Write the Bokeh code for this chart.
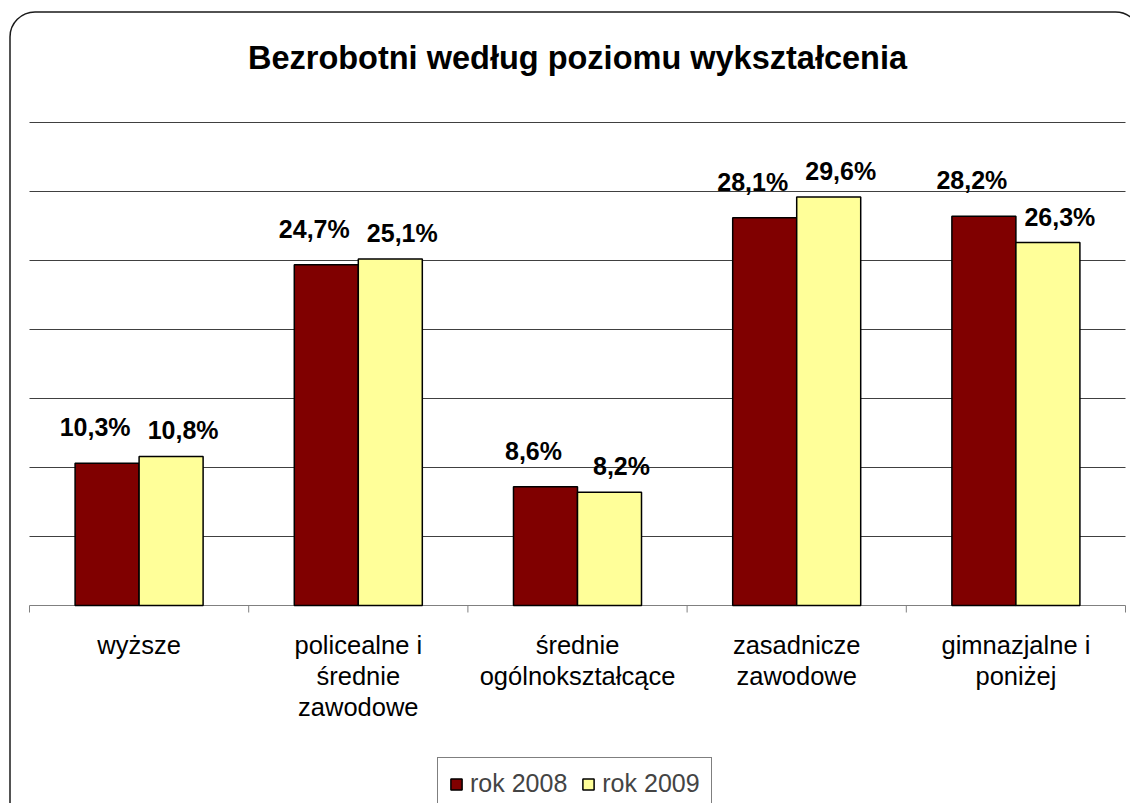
from bokeh.plotting import figure
from bokeh.models import (Range1d, ColumnDataSource, Label, BoxAnnotation,
                          Legend, LegendItem)
from bokeh.core.properties import value
from bokeh.embed import file_html
from bokeh.resources import INLINE

# ---- data ----
categories = ["wyższe", "policealne i\nśrednie\nzawodowe", "średnie\nogólnokształcące",
              "zasadnicze\nzawodowe", "gimnazjalne i\nponiżej"]
series_names = ["rok 2008", "rok 2009"]
values_2008 = [10.3, 24.7, 8.6, 28.1, 28.2]
values_2009 = [10.8, 25.1, 8.2, 29.6, 26.3]
grid_ticks = [5, 10, 15, 20, 25, 30, 35]
title_text = "Bezrobotni według poziomu wykształcenia"

# ---- layout / style ----
W, H = 1130, 803
PLOT_L, PLOT_R, PLOT_T, PLOT_B = 29, 1125, 122, 605
FONT = "Liberation Sans"
COL_2008 = "#800000"
COL_2009 = "#FFFF99"
BAR_W = 0.292

n = len(categories)
ymax = grid_ticks[-1]
XS = (PLOT_R - PLOT_L) / n        # px per category
YS = (PLOT_B - PLOT_T) / ymax     # px per percent


def X(px):
    return (px - PLOT_L) / XS


def Y(py):
    return (PLOT_B - py) / YS


def fmt(v):
    return f"{v:.1f}%".replace(".", ",")


centers = [i + 0.5 for i in range(n)]
bounds = list(range(n + 1))

src08 = ColumnDataSource(dict(x=[c - BAR_W / 2 for c in centers], top=values_2008,
                              lab=[fmt(v) for v in values_2008]))
src09 = ColumnDataSource(dict(x=[c + BAR_W / 2 for c in centers], top=values_2009,
                              lab=[fmt(v) for v in values_2009]))

p = figure(width=W, height=H,
           x_range=Range1d(X(0), X(W)), y_range=Range1d(Y(H), Y(0)),
           output_backend="svg", toolbar_location=None,
           x_axis_location=None, y_axis_location=None,
           min_border=0)
p.outline_line_color = None
p.background_fill_color = "white"
p.border_fill_color = "white"
p.xgrid.visible = False
p.ygrid.visible = False

# gridlines across the plot area
p.segment(x0=[0] * len(grid_ticks), x1=[n] * len(grid_ticks),
          y0=grid_ticks, y1=grid_ticks, line_color="#404040", line_width=1)

# category axis line and boundary ticks
p.segment(x0=[0], x1=[n], y0=[0], y1=[0], line_color="#808080", line_width=1)
p.segment(x0=bounds, x1=bounds, y0=[0] * len(bounds),
          y1=[-7 / YS] * len(bounds), line_color="#808080", line_width=1)

# category labels
p.text(x=centers, y=[0] * n, text=categories, y_offset=25,
       text_align="center", text_baseline="top", text_line_height=1.12,
       text_font=value(FONT), text_font_size="25.5px", text_color="black")

# bars
r08 = p.vbar(x="x", top="top", width=BAR_W, bottom=0, source=src08,
             fill_color=COL_2008, line_color="black", line_width=1.5)
r09 = p.vbar(x="x", top="top", width=BAR_W, bottom=0, source=src09,
             fill_color=COL_2009, line_color="black", line_width=1.5)

# value labels
p.text(x="x", y="top", text="lab", source=src08, x_offset=-12, y_offset=-36,
       text_align="center", text_baseline="alphabetic",
       text_font=value(FONT), text_font_style="bold", text_font_size="25px",
       text_color="black")
p.text(x="x", y="top", text="lab", source=src09, x_offset=12, y_offset=-26,
       text_align="center", text_baseline="alphabetic",
       text_font=value(FONT), text_font_style="bold", text_font_size="25px",
       text_color="black")

# title
p.add_layout(Label(x=n / 2, y=Y(57.5), text=title_text, text_align="center",
                   text_baseline="middle", text_font=FONT, text_font_style="bold",
                   text_font_size="32.5px", text_color="black"))

# rounded chart border (right and bottom sides fall outside the picture)
p.add_layout(BoxAnnotation(left=X(9.5), right=X(1140), top=Y(11.5), bottom=Y(830),
                           fill_color=None, fill_alpha=0,
                           line_color="#1a1a1a", line_alpha=1.0, line_width=1.5,
                           border_radius=25, level="overlay"))

# legend
legend = Legend(items=[LegendItem(label=series_names[0], renderers=[r08]),
                       LegendItem(label=series_names[1], renderers=[r09])],
                orientation="horizontal", location=(437, -7),
                label_text_font=FONT, label_text_font_size="25px",
                glyph_width=14, glyph_height=14, padding=11, spacing=14,
                label_standoff=7, margin=0,
                border_line_color="black", border_line_width=1,
                background_fill_color="white", background_fill_alpha=1.0)
p.add_layout(legend)

open("out.html", "w").write(file_html(p, INLINE))
